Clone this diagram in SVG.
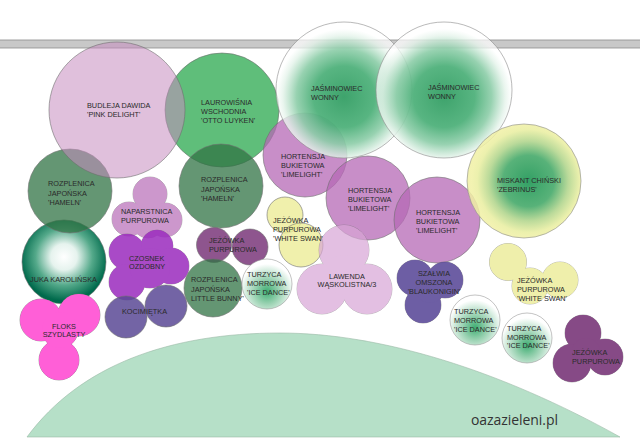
<svg xmlns="http://www.w3.org/2000/svg" width="640" height="448" viewBox="0 0 640 448">
<style>
text{font-family:"Liberation Sans",Arial,sans-serif;font-size:7.3px;fill:#2a2a2a}
.m{text-anchor:middle}
.s{stroke:#6f6f6f;stroke-width:0.6}
.n{stroke:none}
</style>
<defs>
<radialGradient id="gJas" cx="50%" cy="55%" r="50%">
<stop offset="0" stop-color="#3ea36c" stop-opacity="1"/>
<stop offset="0.45" stop-color="#4fb17b" stop-opacity="0.95"/>
<stop offset="0.7" stop-color="#8ccda8" stop-opacity="0.9"/>
<stop offset="0.9" stop-color="#e4f3ea" stop-opacity="0.8"/>
<stop offset="1" stop-color="#ffffff" stop-opacity="0.7"/>
</radialGradient>
<radialGradient id="gMis" cx="54%" cy="50%" r="50%">
<stop offset="0" stop-color="#33a065" stop-opacity="1"/>
<stop offset="0.45" stop-color="#4fae72" stop-opacity="0.95"/>
<stop offset="0.7" stop-color="#b3d68f" stop-opacity="0.9"/>
<stop offset="0.9" stop-color="#e9eea1" stop-opacity="0.87"/>
<stop offset="1" stop-color="#f0f0a4" stop-opacity="0.85"/>
</radialGradient>
<radialGradient id="gJuka" cx="50%" cy="44%" r="52%">
<stop offset="0" stop-color="#ffffff"/>
<stop offset="0.3" stop-color="#e6f3ee"/>
<stop offset="0.65" stop-color="#54a98a"/>
<stop offset="1" stop-color="#006a4c"/>
</radialGradient>
<radialGradient id="gTur" cx="50%" cy="65%" r="55%">
<stop offset="0" stop-color="#3fae73"/>
<stop offset="0.45" stop-color="#9ad2b2"/>
<stop offset="1" stop-color="#ffffff"/>
</radialGradient>
</defs>

<g id="trawnik">
<path d="M27 437 C80 365 170 333 280 333 C380 333 500 370 620 437 Z" fill="#b6e0c8" stroke="#9ab8a6" stroke-width="0.6"/>
</g>
<g id="plot">
<rect x="-1" y="40" width="642" height="8" fill="#c8c8c8" stroke="#8c8c8c" stroke-width="0.8"/>
</g>

<g id="juka">
<circle cx="64" cy="262" r="42" fill="url(#gJuka)" class="s"/>
</g>
<g id="rozplenica-1">
<circle cx="70" cy="191" r="42" fill="#307344" fill-opacity="0.75" class="s"/>
</g>
<g id="laurowisnia">
<circle cx="222" cy="110" r="57" fill="#4eb76b" fill-opacity="0.9" class="s"/>
</g>
<g id="rozplenica-2">
<circle cx="221" cy="186" r="42" fill="#307344" fill-opacity="0.75" class="s"/>
</g>
<g id="budleja">
<circle cx="117" cy="110" r="68" fill="#c78cbf" fill-opacity="0.55" class="s"/>
</g>
<g id="hortensja-1">
<circle cx="305" cy="155" r="42" fill="#b668b6" fill-opacity="0.75" class="s"/>
</g>
<g id="hortensja-2">
<circle cx="368" cy="198" r="42" fill="#b668b6" fill-opacity="0.75" class="s"/>
</g>
<g id="hortensja-3">
<circle cx="437" cy="220" r="43" fill="#b668b6" fill-opacity="0.75" class="s"/>
</g>
<g id="jasminowiec-1">
<circle cx="344" cy="90" r="68" fill="url(#gJas)" stroke="#8a8a8a" stroke-width="0.6"/>
</g>
<g id="jasminowiec-2">
<circle cx="444" cy="90" r="68" fill="url(#gJas)" stroke="#8a8a8a" stroke-width="0.6"/>
</g>
<g id="miskant">
<circle cx="524" cy="181" r="57" fill="url(#gMis)" stroke="#8a8a8a" stroke-width="0.6"/>
</g>

<g id="naparstnica" opacity="0.8" fill="#c07ec0">
<g class="s"><circle cx="150" cy="194" r="17"/><circle cx="129" cy="219" r="17"/><circle cx="165" cy="220" r="17"/><circle cx="148" cy="222" r="16"/></g>
<g class="n"><circle cx="150" cy="194" r="17"/><circle cx="129" cy="219" r="17"/><circle cx="165" cy="220" r="17"/><circle cx="148" cy="222" r="16"/></g>
</g>
<g id="czosnek" opacity="0.85" fill="#9b2bbe">
<g class="s"><circle cx="127" cy="252" r="18"/><circle cx="157" cy="246" r="16"/><circle cx="171" cy="266" r="18"/><circle cx="127" cy="282" r="18"/><circle cx="150" cy="268" r="20"/></g>
<g class="n"><circle cx="127" cy="252" r="18"/><circle cx="157" cy="246" r="16"/><circle cx="171" cy="266" r="18"/><circle cx="127" cy="282" r="18"/><circle cx="150" cy="268" r="20"/></g>
</g>
<g id="kocimietka" fill="#5a4995" fill-opacity="0.85">
<circle cx="126" cy="317" r="21" class="s"/>
<circle cx="166" cy="306" r="21" class="s"/>
</g>
<g id="floks" fill="#ff5fd7">
<g class="s"><circle cx="41" cy="320" r="21"/><circle cx="79" cy="315" r="21"/><circle cx="59" cy="360" r="20"/><circle cx="60" cy="330" r="18"/></g>
<g class="n"><circle cx="41" cy="320" r="21"/><circle cx="79" cy="315" r="21"/><circle cx="59" cy="360" r="20"/><circle cx="60" cy="330" r="18"/></g>
</g>
<g id="jezowka-purpurowa-1" fill="#722b72" fill-opacity="0.8">
<circle cx="214" cy="245" r="17.5" class="s"/>
<circle cx="250" cy="247" r="18" class="s"/>
</g>
<g id="jezowka-white-swan-1" fill="#ecec97" fill-opacity="0.8">
<circle cx="285" cy="215" r="18" class="s"/>
<circle cx="301" cy="245" r="22" class="s"/>
</g>
<g id="rozplenica-little-bunny">
<circle cx="213" cy="288" r="29" fill="#307344" fill-opacity="0.75" class="s"/>
</g>
<g id="turzyca-1">
<circle cx="267" cy="284" r="25" fill="url(#gTur)" stroke="#9a9a9a" stroke-width="0.6"/>
</g>
<g id="lawenda" opacity="0.7" fill="#d8a5d6">
<g class="s"><circle cx="344" cy="250" r="25"/><circle cx="322" cy="289" r="25"/><circle cx="367" cy="289" r="25"/><circle cx="344" cy="275" r="20"/></g>
<g class="n"><circle cx="344" cy="250" r="25"/><circle cx="322" cy="289" r="25"/><circle cx="367" cy="289" r="25"/><circle cx="344" cy="275" r="20"/></g>
</g>
<g id="szalwia" opacity="0.9" fill="#5e4d9b">
<g class="s"><circle cx="415" cy="278" r="18"/><circle cx="445" cy="280" r="18"/><circle cx="423" cy="305" r="18"/><circle cx="430" cy="288" r="15"/></g>
<g class="n"><circle cx="415" cy="278" r="18"/><circle cx="445" cy="280" r="18"/><circle cx="423" cy="305" r="18"/><circle cx="430" cy="288" r="15"/></g>
</g>
<g id="turzyca-2">
<circle cx="475" cy="320" r="25" fill="url(#gTur)" stroke="#9a9a9a" stroke-width="0.6"/>
</g>
<g id="turzyca-3">
<circle cx="527" cy="338" r="25" fill="url(#gTur)" stroke="#9a9a9a" stroke-width="0.6"/>
</g>
<g id="jezowka-white-swan-2" opacity="0.8" fill="#ecec97">
<g class="s"><circle cx="508" cy="262" r="18.5"/><circle cx="560" cy="280" r="18"/><circle cx="530" cy="286" r="18"/></g>
<g class="n"><circle cx="508" cy="262" r="18.5"/><circle cx="560" cy="280" r="18"/><circle cx="530" cy="286" r="18"/></g>
</g>
<g id="jezowka-purpurowa-2" opacity="0.85" fill="#722b72">
<g class="s"><circle cx="583" cy="333" r="18"/><circle cx="572" cy="363" r="19"/><circle cx="605" cy="357" r="18"/><circle cx="586" cy="352" r="14"/></g>
<g class="n"><circle cx="583" cy="333" r="18"/><circle cx="572" cy="363" r="19"/><circle cx="605" cy="357" r="18"/><circle cx="586" cy="352" r="14"/></g>
</g>

<g id="etykiety">
<text x="87" y="108.3">BUDLEJA DAWIDA</text>
<text x="87" y="117.3">'PINK DELIGHT'</text>
<text x="201" y="105.3">LAUROWIŚNIA</text>
<text x="201" y="114.3">WSCHODNIA</text>
<text x="201" y="123.3">'OTTO LUYKEN'</text>
<text x="311" y="91">JAŚMINOWIEC</text>
<text x="311" y="100">WONNY</text>
<text x="428" y="90">JAŚMINOWIEC</text>
<text x="428" y="99">WONNY</text>
<text x="281" y="158.7">HORTENSJA</text>
<text x="281" y="167.7">BUKIETOWA</text>
<text x="281" y="176.7">'LIMELIGHT'</text>
<text x="348" y="193.4">HORTENSJA</text>
<text x="348" y="202.4">BUKIETOWA</text>
<text x="348" y="211.4">'LIMELIGHT'</text>
<text x="416" y="215.4">HORTENSJA</text>
<text x="416" y="224.4">BUKIETOWA</text>
<text x="416" y="233.4">'LIMELIGHT'</text>
<text x="497" y="183.4">MISKANT CHIŃSKI</text>
<text x="497" y="192">'ZEBRINUS'</text>
<text x="48" y="186">ROZPLENICA</text>
<text x="48" y="195.5">JAPOŃSKA</text>
<text x="48" y="204.5">'HAMELN'</text>
<text x="201" y="182">ROZPLENICA</text>
<text x="201" y="191.5">JAPOŃSKA</text>
<text x="201" y="200.5">'HAMELN'</text>
<text x="121" y="213.7">NAPARSTNICA</text>
<text x="121" y="222.7">PURPUROWA</text>
<text x="273" y="223.4">JEŻÓWKA</text>
<text x="273" y="232">PURPUROWA</text>
<text x="273" y="240.7">'WHITE SWAN'</text>
<text x="209" y="242.7">JEŻÓWKA</text>
<text x="209" y="251.7">PURPUROWA</text>
<text x="129" y="261">CZOSNEK</text>
<text x="129" y="269.4">OZDOBNY</text>
<text x="30" y="281.7">JUKA KAROLIŃSKA</text>
<text x="191" y="282">ROZPLENICA</text>
<text x="191" y="292">JAPOŃSKA</text>
<text x="191" y="301.4">LITTLE BUNNY'</text>
<text x="247" y="277">TURZYCA</text>
<text x="247" y="285.7">MORROWA</text>
<text x="247" y="295">'ICE DANCE'</text>
<text x="122" y="313.7">KOCIMIĘTKA</text>
<text x="64" y="328.7" class="m">FLOKS</text>
<text x="64" y="337.4" class="m">SZYDLASTY</text>
<text x="347" y="278.7" class="m">LAWENDA</text>
<text x="347" y="287" class="m">WĄSKOLISTNA/3</text>
<text x="434" y="276" class="m">SZAŁWIA</text>
<text x="434" y="285" class="m">OMSZONA</text>
<text x="434" y="294" class="m">'BLAUKONIGIN'</text>
<text x="454" y="313.7">TURZYCA</text>
<text x="454" y="322.7">MORROWA</text>
<text x="454" y="331.7">'ICE DANCE'</text>
<text x="507" y="331">TURZYCA</text>
<text x="507" y="339.7">MORROWA</text>
<text x="507" y="348.4">'ICE DANCE'</text>
<text x="517" y="283.4">JEŻÓWKA</text>
<text x="517" y="292.4">PURPUROWA</text>
<text x="517" y="301">'WHITE SWAN'</text>
<text x="572" y="355.4">JEŻÓWKA</text>
<text x="572" y="363.7">PURPUROWA</text>
<text x="471" y="425" style="font-family:'Open Sans','Liberation Sans',sans-serif;font-size:14px;fill:#333" textLength="87">oazazieleni.pl</text>
</g>
</svg>
